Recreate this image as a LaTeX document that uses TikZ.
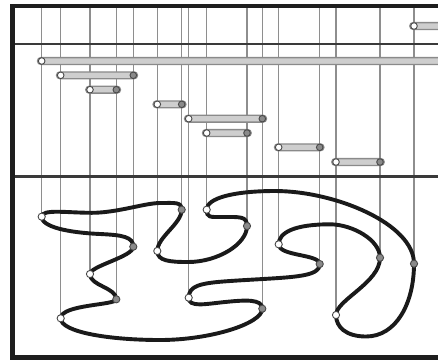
\documentclass[tikz,border=0pt]{standalone}
\definecolor{framec}{HTML}{1E1E1E}
\definecolor{linec}{HTML}{8E8E8E}
\definecolor{sepc}{HTML}{3A3A3A}
\definecolor{barfill}{HTML}{CECECE}
\definecolor{bardraw}{HTML}{8A8A8A}
\definecolor{dotgray}{HTML}{8A8A8A}
\definecolor{dotdraw}{HTML}{484848}
\definecolor{curvec}{HTML}{1A1A1A}
\begin{document}
\begin{tikzpicture}[x=1pt,y=-1pt,
  vline/.style={draw=linec,line width=1.4},
  sepline/.style={draw=sepc,line width=2.4},
  framel/.style={draw=framec,line width=4.6},
  curvel/.style={draw=curvec,line width=3.9},
  wdot/.style={fill=white,draw=dotdraw,line width=0.9},
  gdot/.style={fill=dotgray,draw=dotdraw,line width=0.9},
  barbox/.style={fill=barfill,draw=bardraw,line width=1.3,rounded corners=3.3}]
\clip (0,0) rectangle (438,360);
\fill[white] (0,0) rectangle (438,360);
% curve extreme points
\coordinate (A) at (41.7,216.7);
\coordinate (B) at (181.7,209.7);
\coordinate (C) at (157.3,251);
\coordinate (E) at (247,226);
\coordinate (F) at (206.7,209.7);
\coordinate (G) at (414,263.7);
\coordinate (H) at (336,315);
\coordinate (I) at (380,257.7);
\coordinate (D) at (278.7,244.3);
\coordinate (J) at (319.7,264);
\coordinate (K) at (188.7,297.7);
\coordinate (L) at (262.3,308.7);
\coordinate (M) at (60.7,318.3);
\coordinate (N) at (116.3,299.3);
\coordinate (O) at (90,274);
\coordinate (P) at (133.3,246.7);
\coordinate (top) at (0,8);
% vertical lines
\foreach \p in {A,B,C,D,E,F,G,H,I,J,K,L,M,N,O,P}
  \draw[vline] (\p |- top) -- (\p);
% separators
\draw[sepline] (14,44) -- (440,44);
\draw[sepline] (14,176.5) -- (440,176.5);
% bars
\foreach \a/\b/\y in {41.7/460/61, 60.7/133.3/75.3, 90/116.3/89.7, 157.3/181.7/104.3,
  188.7/262.3/118.7, 206.7/247/133, 278.7/319.7/147.3, 336/380/162, 414/460/26}
  \draw[barbox] (\a-4.2,\y-3.4) rectangle (\b+4.2,\y+3.4);
\foreach \b/\y in {133.3/75.3, 116.3/89.7, 181.7/104.3, 262.3/118.7, 247/133, 319.7/147.3, 380/162}
  \draw[gdot] (\b,\y) circle[radius=3.3];
\foreach \a/\y in {41.7/61, 60.7/75.3, 90/89.7, 157.3/104.3, 188.7/118.7, 206.7/133, 278.7/147.3, 336/162, 414/26}
  \draw[wdot] (\a,\y) circle[radius=3.3];
% closed curve
\draw[curvel] (A)
 .. controls +(0,-8) and +(-25,0) .. (92,212.8)
 .. controls +(25,0) and +(-15,0) .. (160,203)
 .. controls +(15,0) and +(0,-8) .. (B)
 .. controls +(0,14) and +(0,-14) .. (C)
 .. controls +(0,10) and +(-18,0) .. (188,262)
 .. controls +(30,0) and +(0,18) .. (E)
 .. controls +(0,-10) and +(18,0) .. (222,217)
 .. controls +(-12,0) and +(0,8) .. (F)
 .. controls +(0,-12) and +(-40,0) .. (275,191)
 .. controls +(60,0) and +(0,-40) .. (G)
 .. controls +(0,40) and +(30,0) .. (366,336.5)
 .. controls +(-20,0) and +(0,12) .. (H)
 .. controls +(0,-15) and +(0,25) .. (I)
 .. controls +(0,-18) and +(22,0) .. (330,224.3)
 .. controls +(-35,0) and +(0,-12) .. (D)
 .. controls +(0,12) and +(0,-10) .. (J)
 .. controls +(0,14) and +(60,-4) .. (230,281)
 .. controls +(-30,2) and +(0,-12) .. (K)
 .. controls +(0,10) and +(-20,2) .. (225,302)
 .. controls +(20,-2) and +(0,-10) .. (L)
 .. controls +(0,15) and +(50,0) .. (160,340)
 .. controls +(-50,0) and +(0,14) .. (M)
 .. controls +(0,-14) and +(0,6) .. (N)
 .. controls +(0,-12) and +(0,12) .. (O)
 .. controls +(0,-8) and +(0,10) .. (P)
 .. controls +(0,-10) and +(22,1) .. (100,234)
 .. controls +(-33,-1.5) and +(0,10) .. (A);
% dots on curve
\foreach \p in {A,C,F,H,D,K,M,O}
  \draw[wdot] (\p) circle[radius=3.6];
\foreach \p in {B,E,G,I,J,L,N,P}
  \draw[gdot] (\p) circle[radius=3.6];
% frame
\draw[framel] (445,6.1) -- (12.5,6.1) -- (12.5,357.2) -- (445,357.2);
\end{tikzpicture}
\end{document}
